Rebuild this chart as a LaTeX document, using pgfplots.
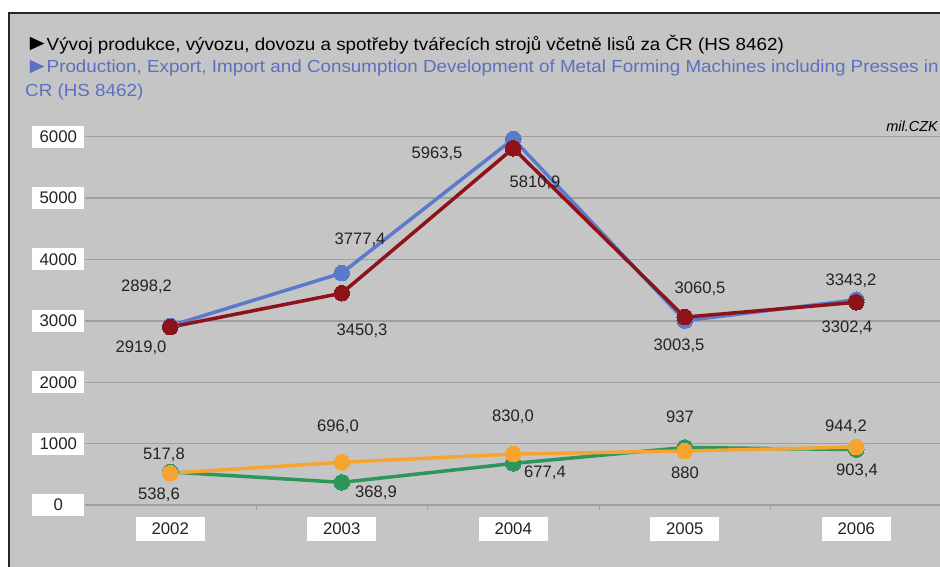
\documentclass[border=0pt]{standalone}
\usepackage{fontspec}
\setmainfont{Liberation Sans}
\usepackage{graphicx}
\usepackage{pgfplots}
\pgfplotsset{compat=1.18}
\definecolor{bg}{RGB}{197,197,197}
\definecolor{gridc}{RGB}{160,160,160}
\definecolor{cblue}{RGB}{92,122,204}
\definecolor{cred}{RGB}{140,20,25}
\definecolor{cgreen}{RGB}{45,150,90}
\definecolor{corange}{RGB}{246,163,48}
\definecolor{ttblue}{RGB}{92,112,192}
\definecolor{lbl}{RGB}{35,35,35}
\newcommand{\tri}{\raisebox{-0.5pt}{\scalebox{1.3}{►}}\kern-2.5pt}
\begin{document}
\begin{tikzpicture}[x=1pt,y=1pt]
\useasboundingbox (0,0) rectangle (940,-566);
\fill[white] (0,0) rectangle (940,-566);
\filldraw[fill=bg, draw=black!85, line width=1.3pt] (9,-13) rectangle (960,-590);
\node[anchor=base west, inner sep=0, font=\fontsize{17.5}{17.5}\selectfont] at (25,-50) {\scalebox{1.075}[1]{\tri Vývoj produkce, vývozu, dovozu a spotřeby tvářecích strojů včetně lisů za ČR (HS 8462)}};
\node[anchor=base west, inner sep=0, text=ttblue, font=\fontsize{17.5}{17.5}\selectfont] at (25,-72.5) {\scalebox{1.075}[1]{\tri Production, Export, Import and Consumption Development of Metal Forming Machines including Presses in}};
\node[anchor=base west, inner sep=0, text=ttblue, font=\fontsize{17.5}{17.5}\selectfont] at (25,-96.5) {\scalebox{1.075}[1]{CR (HS 8462)}};
\node[anchor=base east, inner sep=0, font=\itshape\fontsize{14.5}{14.5}\selectfont] at (938,-131.7) {mil.CZK};
\begin{axis}[
  at={(84.5pt,-505pt)}, anchor=south west, scale only axis,
  width=857.5pt, height=368.3pt,
  xmin=-0.5, xmax=4.5, ymin=0, ymax=6000,
  clip=false,
  axis line style={draw=none},
  ytick={0,1000,...,6000},
  ymajorgrids, grid style={gridc, line width=1.3pt},
  xtick={0,1,2,3,4},
  xticklabels={2002,2003,2004,2005,2006},
  minor xtick={0.5,1.5,2.5,3.5},
  xtick pos=lower, ytick pos=left,
  major tick length=0pt, minor tick length=5pt, tick align=outside,
  minor tick style={gridc, line width=1pt},
  major tick style={draw=none},
  yticklabel style={fill=white, inner sep=0pt, minimum width=52pt, minimum height=22pt, text=lbl, font=\fontsize{16.8}{16.8}\selectfont},
  xticklabel style={fill=white, inner sep=0pt, minimum width=69pt, minimum height=24pt, yshift=-12pt, text=lbl, font=\fontsize{16.8}{16.8}\selectfont},
  /pgf/number format/assume math mode=true,
  /pgf/number format/1000 sep={},
]
\addplot[cblue, line width=3.5pt, mark=*, mark size=7.8pt, mark options={solid, fill=cblue, draw=cblue, line width=0pt}] coordinates {(0,2919.0)(1,3777.4)(2,5963.5)(3,3003.5)(4,3343.2)};
\addplot[cred, line width=3.5pt, mark=*, mark size=7.8pt, mark options={solid, fill=cred, draw=cred, line width=0pt}] coordinates {(0,2898.2)(1,3450.3)(2,5810.9)(3,3060.5)(4,3302.4)};
\addplot[cgreen, line width=3.5pt, mark=*, mark size=7.8pt, mark options={solid, fill=cgreen, draw=cgreen, line width=0pt}] coordinates {(0,538.6)(1,368.9)(2,677.4)(3,937)(4,903.4)};
\addplot[corange, line width=3.5pt, mark=*, mark size=7.8pt, mark options={solid, fill=corange, draw=corange, line width=0pt}] coordinates {(0,517.8)(1,696.0)(2,830.0)(3,880)(4,944.2)};
\end{axis}
\begin{scope}[every node/.style={text=lbl, inner sep=0pt, font=\fontsize{16.6}{16.6}\selectfont}]
\node at (146.5,-286.7) {2898,2};
\node at (141,-348) {2919,0};
\node at (360,-240) {3777,4};
\node at (362,-331) {3450,3};
\node at (437,-154) {5963,5};
\node at (535,-183) {5810,9};
\node at (700,-289) {3060,5};
\node at (679,-346) {3003,5};
\node at (851,-281) {3343,2};
\node at (847,-328) {3302,4};
\node at (680,-417) {937};
\node at (685,-473) {880};
\node at (846,-427) {944,2};
\node at (857,-471) {903,4};
\node at (164,-455) {517,8};
\node at (159,-495) {538,6};
\node at (338,-427) {696,0};
\node at (376,-493) {368,9};
\node at (513,-417) {830,0};
\node at (545,-473) {677,4};
\end{scope}
\end{tikzpicture}
\end{document}
